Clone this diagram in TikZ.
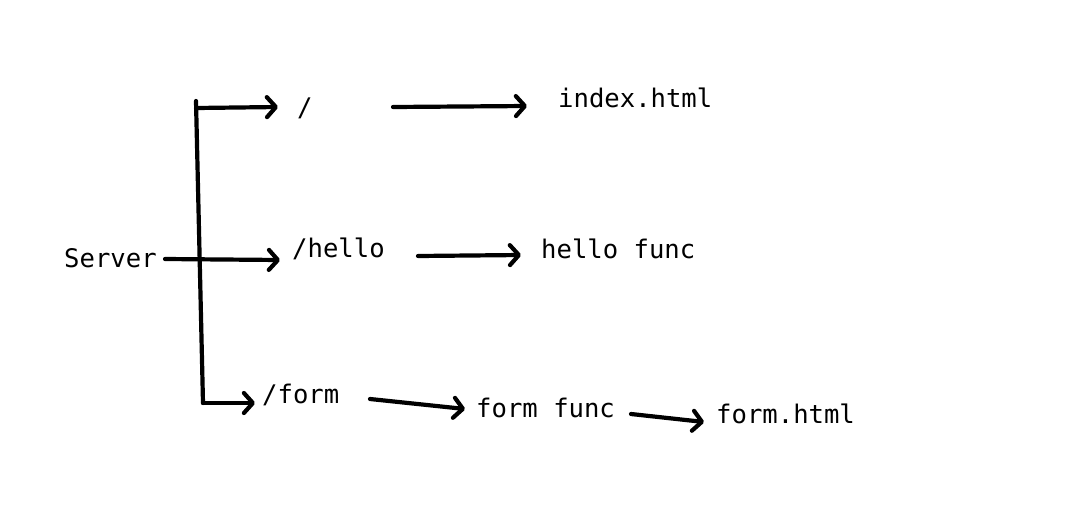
\documentclass[tikz,border=0pt]{standalone}
\usepackage{fontspec}
\setmonofont{DejaVu Sans Mono}
\usetikzlibrary{arrows.meta}
\begin{document}
\begin{tikzpicture}[x=1pt,y=-1pt,
  lbl/.style={anchor=base west,inner sep=0pt,font=\ttfamily\fontsize{25.6}{30}\selectfont},
  conn/.style={line width=4.2pt,line cap=round,line join=round},
  arr/.style={conn,-{Straight Barb[length=9pt,width=20pt,line cap=round,line join=round]}}]
\useasboundingbox (0,0) rectangle (1080,512);
\fill[white] (0,0) rectangle (1080,512);
% labels
\node[lbl] (server) at (64,267) {Server};
\node[lbl] (root) at (297,116) {/};
\node[lbl] (hello) at (292,257) {/hello};
\node[lbl] (form) at (262,403) {/form};
\node[lbl] (index) at (558,107) {index.html};
\node[lbl] (hfunc) at (541,258) {hello func};
\node[lbl] (ffunc) at (476,417) {form func};
\node[lbl] (fhtml) at (716,423) {form.html};
% connector end points
\coordinate (vtop) at (196,101);
\coordinate (vbot) at (203,403);
\coordinate (jtop) at (196,108);
\coordinate (troot) at (278,107);
\coordinate (sstart) at (165,259);
\coordinate (thello) at (280,260);
\coordinate (tform) at (255,403);
\coordinate (r1) at (393,107);
\coordinate (r2) at (527,106);
\coordinate (h1) at (418,256);
\coordinate (h2) at (521,255);
\coordinate (f1) at (370,399);
\coordinate (f2) at (465,409);
\coordinate (g1) at (631,414);
\coordinate (g2) at (704,422);
% connectors
\draw[conn] (vtop) -- (vbot);
\draw[arr] (jtop) -- (troot);
\draw[arr] (vbot) -- (tform);
\draw[arr] (sstart) -- (thello);
\draw[arr] (r1) -- (r2);
\draw[arr] (h1) -- (h2);
\draw[arr] (f1) -- (f2);
\draw[arr] (g1) -- (g2);
\end{tikzpicture}
\end{document}
